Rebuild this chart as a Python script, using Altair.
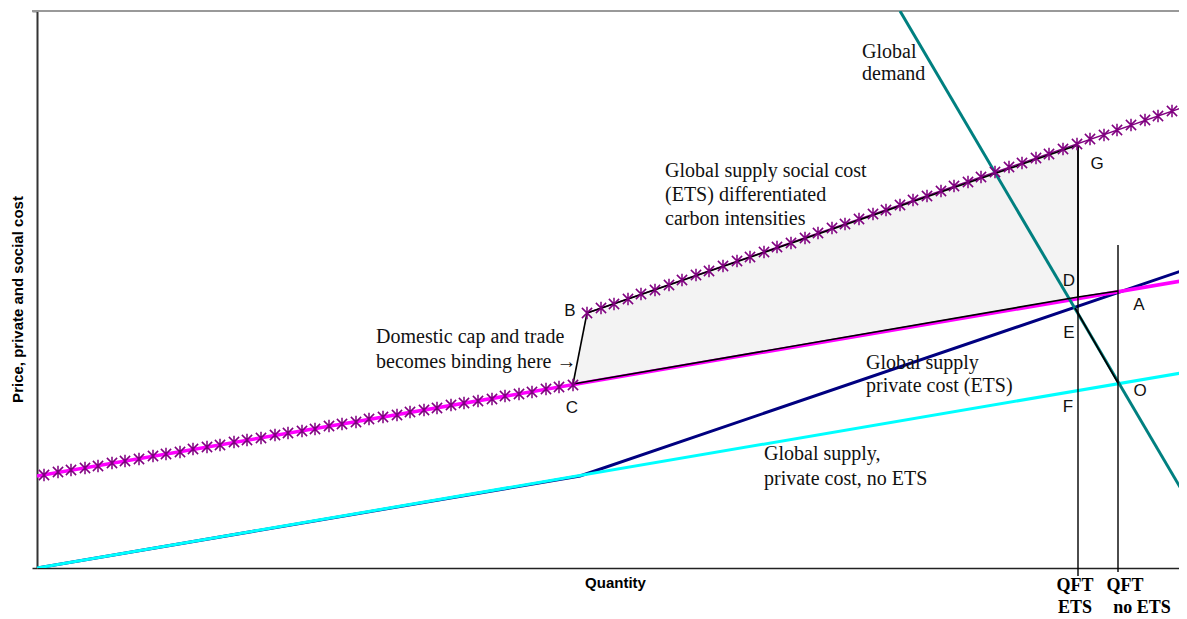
import altair as alt
import pandas as pd

# ---- data (chart units: x = quantity, y = price) ----
X_VIEW = 1142
Y_MAX = 557

cyan_x = [0, 1150]
cyan_y = [0, 196]

navy_x = [0, 543, 1150]
navy_y = [0, 92, 299]

pink_x = [0, 1150]
pink_y = [92, 288]

upper_x = [550, 1150]
upper_y = [255, 462]

demand_x = [863, 1150]
demand_y = [557, 69]

# star markers (series points)
stars_low_x = [7, 21, 34, 48, 61, 75, 88, 102, 116, 129, 143, 156, 170, 183, 197, 210, 224, 238, 251, 265,
               278, 292, 305, 319, 332, 346, 360, 373, 387, 400, 414, 427, 441, 455, 468, 482, 495, 509, 522, 536]
stars_low_y = [93, 96, 98, 100, 102, 105, 107, 109, 112, 114, 116, 119, 121, 123, 126, 128, 130, 133, 135, 137,
               139, 142, 144, 146, 149, 151, 153, 156, 158, 160, 163, 165, 167, 169, 172, 174, 176, 179, 181, 183]
stars_up_x = [550, 564, 577, 591, 604, 618, 632, 645, 659, 672, 686, 700, 713, 727, 740, 754, 768, 781, 795, 808,
              822, 836, 849, 863, 876, 890, 904, 917, 931, 944, 958, 972, 985, 999, 1012, 1026, 1040, 1053, 1067,
              1080, 1094, 1108, 1121, 1135, 1148]
stars_up_y = [255, 260, 264, 269, 274, 278, 283, 288, 293, 297, 302, 307, 311, 316, 321, 325, 330, 335, 340, 344,
              349, 354, 358, 363, 368, 372, 377, 382, 386, 391, 396, 401, 405, 410, 414, 419, 424, 429, 433,
              438, 443, 448, 452, 457, 461]

# key points
pts = {"A": (1081, 277), "B": (550, 255), "C": (536, 184), "D": (1041, 271),
       "E": (1038, 260), "G": (1041, 423), "O": (1081, 185)}

# shaded welfare area (B-G-D-C)
area_x = [536, 550, 1041]
area_top = [184, 255, 423]
area_bot = [184, 186, 271]

# outline segments
seg_from = ["C", "B", "G", "D", "D", "E"]
seg_to = ["B", "G", "D", "C", "A", "O"]

# quantity verticals
qft_x = [1041, 1081]
qft_top = [423, 323]
qft_bot = [-8, -4]

# annotations
serif_text = ["Global", "demand", "Global supply social cost", "(ETS) differentiated", "carbon intensities",
              "Domestic cap and trade", "becomes binding here \u2192", "Global supply", "private cost (ETS)",
              "Global supply,", "private cost, no ETS"]
serif_x = [825, 825, 628, 628, 628, 339, 339, 829, 829, 727, 727]
serif_y = [516, 494, 397, 373, 349, 231, 206, 205, 182, 114, 89]

letter_text = ["B", "C", "G", "D", "E", "A", "O", "F"]
letter_x = [533, 535, 1060, 1032, 1032, 1102, 1103, 1031]
letter_y = [257, 160, 404, 287, 235, 263, 177, 161]

qft_text = ["QFT", "ETS", "QFT", "no ETS"]
qft_lx = [1038, 1038, 1088, 1105]
qft_ly = [-18, -40, -18, -40]

# ---- build tables ----
def line_df(xs_, ys_):
    return pd.DataFrame({"x": xs_, "y": ys_, "o": list(range(len(xs_)))})

xs = alt.Scale(domain=[0, X_VIEW], nice=False, zero=False)
ys = alt.Scale(domain=[0, Y_MAX], nice=False, zero=False)

AX_X = alt.Axis(
    title="Quantity", ticks=False, labels=False, grid=False, domainColor="#222", domainWidth=1.5,
    titleFont="Liberation Sans", titleFontSize=15, titleFontWeight="bold", titleColor="#000",
    titleX=578, titleY=14, titleBaseline="middle", titleAlign="center")
AX_Y = alt.Axis(
    title="Price, private and social cost", values=[0, Y_MAX], labels=False, grid=False,
    tickSize=5, tickColor="#222", tickWidth=1.5, domainColor="#333", domainWidth=2,
    titleFont="Liberation Sans", titleFontSize=15, titleFontWeight="bold", titleColor="#000",
    titleX=-20, titleY=288, titleAngle=270, titleBaseline="middle", titleAlign="center")

def X(f="x"):
    return alt.X(f"{f}:Q", scale=xs, axis=AX_X)

def Y(f="y"):
    return alt.Y(f"{f}:Q", scale=ys, axis=AX_Y)

def line(xs_, ys_, color, width):
    return alt.Chart(line_df(xs_, ys_)).mark_line(color=color, strokeWidth=width, clip=True).encode(
        x=X(), y=Y(), order="o:Q")

top_rule = alt.Chart(pd.DataFrame({"x": [-5], "x2": [X_VIEW], "y": [Y_MAX]})).mark_rule(
    color="#999", strokeWidth=2).encode(x=X(), x2="x2:Q", y=Y())

area = alt.Chart(pd.DataFrame({"x": area_x, "y": area_top, "y2": area_bot})).mark_area(
    color="#b0b0b0", opacity=0.15).encode(x=X(), y=Y(), y2="y2:Q")

seg_df = pd.DataFrame({
    "x": [pts[a][0] for a in seg_from], "y": [pts[a][1] for a in seg_from],
    "x2": [pts[b][0] for b in seg_to], "y2": [pts[b][1] for b in seg_to]})
segs = alt.Chart(seg_df).mark_rule(color="black", strokeWidth=1.6).encode(
    x=X(), y=Y(), x2="x2:Q", y2="y2:Q")

qft_df = pd.DataFrame({"x": qft_x, "y": qft_bot, "y2": qft_top})
qft = alt.Chart(qft_df).mark_rule(color="black", strokeWidth=1.4).encode(x=X(), y=Y(), y2="y2:Q")

star_shape = "M-1,-1L1,1M1,-1L-1,1M0,-1.2L0,1.2"
stars = alt.Chart(pd.DataFrame({"x": stars_low_x + stars_up_x, "y": stars_low_y + stars_up_y})).mark_point(
    shape=star_shape, filled=False, stroke="#800080", strokeWidth=1.5, size=105, opacity=1, clip=True).encode(
    x=X(), y=Y())

serif = alt.Chart(pd.DataFrame({"x": serif_x, "y": serif_y, "t": serif_text})).mark_text(
    font="Liberation Serif", fontSize=20, align="left", baseline="middle", color="#111").encode(
    x=X(), y=Y(), text="t:N")

letters = alt.Chart(pd.DataFrame({"x": letter_x, "y": letter_y, "t": letter_text})).mark_text(
    font="Liberation Sans", fontSize=17, align="center", baseline="middle", color="#111").encode(
    x=X(), y=Y(), text="t:N")

qlab = alt.Chart(pd.DataFrame({"x": qft_lx, "y": qft_ly, "t": qft_text})).mark_text(
    font="Liberation Serif", fontSize=18, fontWeight="bold", align="center", baseline="middle",
    color="#000").encode(x=X(), y=Y(), text="t:N")

chart = alt.layer(
    top_rule,
    area,
    line(navy_x, navy_y, "#000080", 3),
    line(cyan_x, cyan_y, "#00FFFF", 3),
    line(pink_x, pink_y, "#FF00FF", 3.5),
    line(upper_x, upper_y, "#800080", 1.5),
    line(demand_x, demand_y, "#008080", 3),
    qft,
    segs,
    stars,
    serif,
    letters,
    qlab,
).properties(
    width=X_VIEW, height=557,
    autosize=alt.AutoSizeParams(type="none"),
    padding={"left": 29, "top": 3, "right": 0, "bottom": 50},
).configure_view(stroke=None)

chart.save("out.html", embed_options={"renderer": "svg", "actions": False})
